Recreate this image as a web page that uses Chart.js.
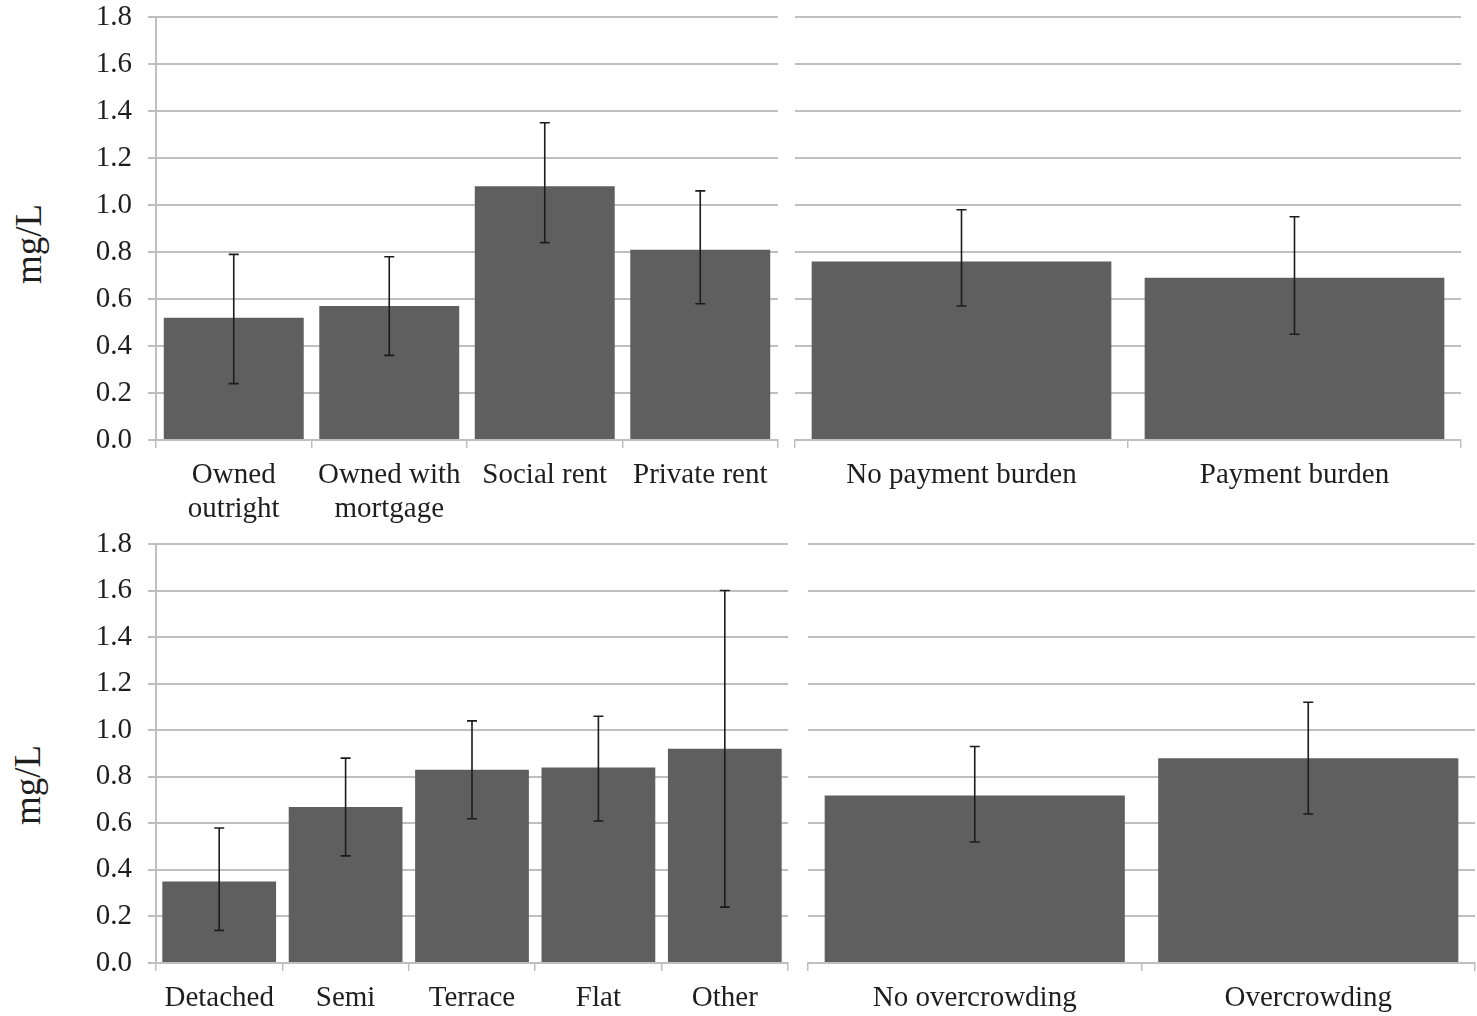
<!DOCTYPE html>
<html lang="en">
<head>
    <meta charset="UTF-8">
    <title>mg/L by housing characteristics</title>
    <script src="https://cdn.jsdelivr.net/npm/chart.js"></script>
    <style>
        body {
            margin: 0;
            background: #ffffff;
            font-family: "Liberation Serif", "Times New Roman", serif;
        }
        .panel {
            position: absolute;
        }
        .ytitle {
            position: absolute;
            font-family: "Liberation Serif", "Times New Roman", serif;
            font-size: 37px;
            color: #1e1e1e;
            transform: translate(-50%, -50%) rotate(-90deg);
            white-space: nowrap;
        }
    </style>
</head>
<body>

    <div class="panel" style="left:60px; top:0px; width:730px; height:530px;"><canvas id="tenureChart"></canvas></div>
    <div class="panel" style="left:790px; top:0px; width:687px; height:530px;"><canvas id="burdenChart"></canvas></div>
    <div class="panel" style="left:60px; top:530px; width:740px; height:486px;"><canvas id="dwellingChart"></canvas></div>
    <div class="panel" style="left:800px; top:530px; width:677px; height:486px;"><canvas id="crowdChart"></canvas></div>

    <div class="ytitle" style="left:28px; top:244px;">mg/L</div>
    <div class="ytitle" style="left:27px; top:785px;">mg/L</div>

    <script>
        // y axis
        const yMin = 0;
        const yMax = 1.8;
        const yStep = 0.2;

        // tenure
        const tenureLabels = [['Owned', 'outright'], ['Owned with', 'mortgage'], 'Social rent', 'Private rent'];
        const tenureMean = [0.52, 0.57, 1.08, 0.81];
        const tenureLow = [0.24, 0.36, 0.84, 0.58];
        const tenureHigh = [0.79, 0.78, 1.35, 1.06];

        // payment burden
        const burdenLabels = ['No payment burden', 'Payment burden'];
        const burdenMean = [0.76, 0.69];
        const burdenLow = [0.57, 0.45];
        const burdenHigh = [0.98, 0.95];

        // dwelling type
        const dwellingLabels = ['Detached', 'Semi', 'Terrace', 'Flat', 'Other'];
        const dwellingMean = [0.35, 0.67, 0.83, 0.84, 0.92];
        const dwellingLow = [0.14, 0.46, 0.62, 0.61, 0.24];
        const dwellingHigh = [0.58, 0.88, 1.04, 1.06, 1.60];

        // overcrowding
        const crowdLabels = ['No overcrowding', 'Overcrowding'];
        const crowdMean = [0.72, 0.88];
        const crowdLow = [0.52, 0.64];
        const crowdHigh = [0.93, 1.12];

        const gridGrey = '#bfbfbf';
        const textColor = '#1e1e1e';
        const serif = '"Liberation Serif", "Times New Roman", serif';

        // draws the whiskers from the low/high arrays attached to the dataset
        const errorBars = {
            id: 'errorBars',
            afterDatasetsDraw(chart) {
                const ctx = chart.ctx;
                const yScale = chart.scales.y;
                chart.data.datasets.forEach((ds, di) => {
                    const meta = chart.getDatasetMeta(di);
                    meta.data.forEach((bar, i) => {
                        const yLo = yScale.getPixelForValue(ds.low[i]);
                        const yHi = yScale.getPixelForValue(ds.high[i]);
                        const cap = 5;
                        ctx.save();
                        ctx.strokeStyle = '#1c1c1c';
                        ctx.lineWidth = 1.6;
                        ctx.beginPath();
                        ctx.moveTo(bar.x, yLo);
                        ctx.lineTo(bar.x, yHi);
                        ctx.moveTo(bar.x - cap, yHi);
                        ctx.lineTo(bar.x + cap, yHi);
                        ctx.moveTo(bar.x - cap, yLo);
                        ctx.lineTo(bar.x + cap, yLo);
                        ctx.stroke();
                        ctx.restore();
                    });
                });
            }
        };

        function noPad(s) {
            s.paddingTop = 0;
            s.paddingBottom = 0;
            s.paddingLeft = 0;
            s.paddingRight = 0;
        }

        function createChart(canvasId, labels, mean, low, high, opts) {
            const ctx = document.getElementById(canvasId).getContext('2d');
            new Chart(ctx, {
                type: 'bar',
                data: {
                    labels: labels,
                    datasets: [{
                        data: mean,
                        low: low,
                        high: high,
                        backgroundColor: '#5f5f5f',
                        borderWidth: 0,
                        barPercentage: 0.9,
                        categoryPercentage: 1.0
                    }]
                },
                options: {
                    responsive: true,
                    maintainAspectRatio: false,
                    animation: false,
                    layout: { padding: opts.padding },
                    plugins: {
                        legend: { display: false },
                        tooltip: { enabled: false }
                    },
                    scales: {
                        x: {
                            afterFit: s => { s.height = opts.xHeight; noPad(s); },
                            grid: {
                                display: true,
                                drawOnChartArea: false,
                                drawTicks: true,
                                tickLength: 8,
                                color: gridGrey,
                                lineWidth: 1.5,
                                offset: true
                            },
                            border: { display: true, color: gridGrey, width: 2 },
                            ticks: {
                                color: textColor,
                                padding: 11,
                                maxRotation: 0,
                                autoSkip: false,
                                font: { family: serif, size: 29, lineHeight: 1.15 }
                            }
                        },
                        y: {
                            min: yMin,
                            max: yMax,
                            afterFit: s => { s.width = opts.yWidth; noPad(s); },
                            grid: {
                                color: gridGrey,
                                lineWidth: 2,
                                drawTicks: opts.showY,
                                tickLength: 8
                            },
                            border: { display: opts.showY, color: gridGrey, width: 2 },
                            ticks: {
                                display: opts.showY,
                                stepSize: yStep,
                                padding: 16,
                                color: textColor,
                                callback: v => Number(v).toFixed(1),
                                font: { family: serif, size: 29, lineHeight: 1.0 }
                            }
                        }
                    }
                },
                plugins: [errorBars]
            });
        }

        createChart('tenureChart', tenureLabels, tenureMean, tenureLow, tenureHigh,
            { padding: { top: 17, right: 12, left: 0, bottom: 0 }, xHeight: 90, yWidth: 96, showY: true });
        createChart('burdenChart', burdenLabels, burdenMean, burdenLow, burdenHigh,
            { padding: { top: 17, right: 16, left: 0, bottom: 0 }, xHeight: 90, yWidth: 5, showY: false });
        createChart('dwellingChart', dwellingLabels, dwellingMean, dwellingLow, dwellingHigh,
            { padding: { top: 14, right: 12, left: 0, bottom: 0 }, xHeight: 53, yWidth: 96, showY: true });
        createChart('crowdChart', crowdLabels, crowdMean, crowdLow, crowdHigh,
            { padding: { top: 14, right: 2, left: 0, bottom: 0 }, xHeight: 53, yWidth: 8, showY: false });
    </script>
</body>
</html>
